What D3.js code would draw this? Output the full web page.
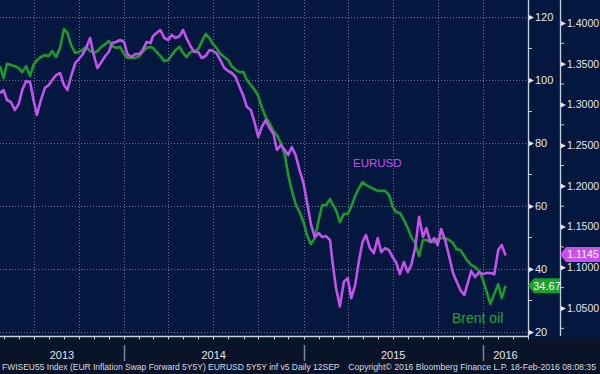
<!DOCTYPE html>
<html><head><meta charset="utf-8">
<script src="https://cdn.jsdelivr.net/npm/d3@7"></script>
<style>html,body{margin:0;padding:0;background:#03173f;}svg{display:block;}</style>
</head><body>
<svg id="c" width="600" height="374"></svg>
<script>
const dates = [
"2013-04-24",
"2013-05-01","2013-05-08","2013-05-16","2013-05-24",
"2013-06-01","2013-06-08","2013-06-16","2013-06-24",
"2013-07-01","2013-07-08","2013-07-16","2013-07-24",
"2013-08-01","2013-08-08","2013-08-16","2013-08-24",
"2013-09-01","2013-09-08","2013-09-16","2013-09-24",
"2013-10-01","2013-10-08","2013-10-16","2013-10-24",
"2013-11-01","2013-11-08","2013-11-16","2013-11-24",
"2013-12-01","2013-12-08","2013-12-16","2013-12-24",
"2014-01-01","2014-01-08","2014-01-16","2014-01-24",
"2014-02-01","2014-02-08","2014-02-16","2014-02-24",
"2014-03-01","2014-03-08","2014-03-16","2014-03-24",
"2014-04-01","2014-04-08","2014-04-16","2014-04-24",
"2014-05-01","2014-05-08","2014-05-16","2014-05-24",
"2014-06-01","2014-06-08","2014-06-16","2014-06-24",
"2014-07-01","2014-07-08","2014-07-16","2014-07-24",
"2014-08-01","2014-08-08","2014-08-16","2014-08-24",
"2014-09-01","2014-09-08","2014-09-16","2014-09-24",
"2014-10-01","2014-10-08","2014-10-16","2014-10-24",
"2014-11-01","2014-11-08","2014-11-16","2014-11-24",
"2014-12-01","2014-12-08","2014-12-16","2014-12-24",
"2015-01-01","2015-01-08","2015-01-16","2015-01-24",
"2015-02-01","2015-02-08","2015-02-16","2015-02-24",
"2015-03-01","2015-03-08","2015-03-16","2015-03-24",
"2015-04-01","2015-04-08","2015-04-16","2015-04-24",
"2015-05-01","2015-05-08","2015-05-16","2015-05-24",
"2015-06-01","2015-06-08","2015-06-16","2015-06-24",
"2015-07-01","2015-07-08","2015-07-16","2015-07-24",
"2015-08-01","2015-08-08","2015-08-16","2015-08-24",
"2015-09-01","2015-09-08","2015-09-16","2015-09-24",
"2015-10-01","2015-10-08","2015-10-16","2015-10-24",
"2015-11-01","2015-11-08","2015-11-16","2015-11-24",
"2015-12-01","2015-12-08","2015-12-16","2015-12-24",
"2016-01-01","2016-01-08","2016-01-16","2016-01-24",
"2016-02-01","2016-02-08","2016-02-16"];

const brent = [
104.4,
100.6,105.1,104.8,104.4,
103.8,102.5,104.4,101.3,
104.8,106.3,107.3,107.9,
107.6,109.2,107.3,110.2,
116.2,114.9,110.8,108.6,
108.9,109.5,110.5,109.2,
108.6,109.2,110.5,111.4,
112.4,110.8,110.2,110.5,
108.3,107.0,107.0,107.0,
107.6,108.9,110.2,110.5,
110.2,108.9,107.6,106.0,
106.3,107.9,109.5,110.5,
108.6,107.3,108.9,109.2,
109.8,112.1,114.6,113.3,
111.4,110.2,108.3,107.3,
106.3,104.4,103.2,102.5,
102.5,100.0,98.4,96.8,
94.9,91.4,88.3,86.3,
83.8,82.5,80.0,76.2,
69.8,65.1,60.6,58.1,
54.9,50.8,47.9,49.8,
55.6,60.3,60.3,62.2,
60.6,58.7,54.9,57.5,
57.5,59.7,63.2,65.7,
67.6,66.7,66.0,65.4,
64.8,64.8,64.8,63.5,
60.0,58.1,57.8,55.6,
53.0,50.2,48.3,44.1,
49.2,49.2,48.6,48.6,
49.5,49.8,49.8,49.2,
48.3,46.3,46.0,44.1,
42.5,41.3,40.6,39.4,
36.5,33.0,28.9,32.1,
35.2,30.8,34.67];

const eurusd = [
1.3140,
1.3177,1.3054,1.3030,1.2931,
1.3005,1.3177,1.3287,1.3275,
1.3054,1.2870,1.3054,1.3201,
1.3238,1.3300,1.3361,1.3386,
1.3238,1.3177,1.3361,1.3509,
1.3558,1.3607,1.3693,1.3816,
1.3595,1.3447,1.3521,1.3595,
1.3644,1.3754,1.3767,1.3791,
1.3767,1.3619,1.3582,1.3619,
1.3619,1.3668,1.3767,1.3754,
1.3840,1.3877,1.3914,1.3816,
1.3791,1.3853,1.3816,1.3840,
1.3914,1.3816,1.3717,1.3644,
1.3644,1.3570,1.3595,1.3668,
1.3656,1.3631,1.3545,1.3447,
1.3410,1.3386,1.3337,1.3214,
1.3103,1.2968,1.2931,1.2771,
1.2600,1.2722,1.2808,1.2710,
1.2636,1.2440,1.2501,1.2440,
1.2378,1.2477,1.2378,1.2194,
1.2034,1.1801,1.1531,1.1371,
1.1419,1.1371,1.1383,1.1334,
1.1064,1.0750,1.0520,1.0820,
1.0867,1.0620,1.0781,1.1088,
1.1310,1.1396,1.1236,1.1174,
1.1359,1.1187,1.1236,1.1211,
1.1125,1.1064,1.0917,1.1064,
1.0941,1.1027,1.1236,1.1620,
1.1371,1.1482,1.1310,1.1359,
1.1273,1.1469,1.1334,1.1138,
1.0929,1.0830,1.0720,1.0659,
1.0806,1.0953,1.0880,1.0941,
1.0916,1.0929,1.0929,1.0916,
1.1211,1.1273,1.1145];

const brentTicks = [20,40,60,80,100,120];
const brentMinor = [30,50,70,90,110];
const fxTicks = [1.05,1.10,1.15,1.20,1.25,1.30,1.35,1.40];
const fxMinor = [1.025,1.075,1.125,1.175,1.225,1.275,1.325,1.375];
const yearStarts = ["2013-01-01","2014-01-01","2015-01-01","2016-01-01","2017-01-01"];
const yearLabels = ["2013","2014","2015","2016"];
const seriesNames = ["EURUSD","Brent oil"];
const lastLabels = ["1.1145","34.67"];
const footerLeft = "FWISEU55 Index (EUR Inflation Swap Forward 5Y5Y) EURUSD 5Y5Y inf v5  Daily 12SEP";
const footerRight = "Copyright\u00A9 2016 Bloomberg Finance L.P.  18-Feb-2016 08:08:35";

const parse = d3.timeParse("%Y-%m-%d");
const D = dates.map(parse);
const W = 600, H = 374, PR = 528, PB = 333, RA = 560;
const FONT = "Liberation Sans, Arial, sans-serif";
const GREEN = "#1f9a2a", MAGENTA = "#c552ef";

const x = d3.scaleTime().domain([parse("2014-01-01"), parse("2016-01-01")]).range([124, 483]);
const yL = d3.scaleLinear().domain([20, 120]).range([332, 17]);
const yR = d3.scaleLinear().domain([1.05, 1.40]).range([308, 23]);
const x0 = x.invert(0), x1 = x.invert(PR);

const svg = d3.select("#c");
svg.append("rect").attr("width", W).attr("height", H).attr("fill", "#03173f");
svg.append("rect").attr("y", 338).attr("width", W).attr("height", H - 338).attr("fill", "#0a1428");

// grid
const grid = svg.append("g").attr("stroke", "#7c8aa8").attr("stroke-width", 1).attr("stroke-dasharray", "1,2").attr("opacity", 0.8);
brentTicks.forEach(v => {
  grid.append("line").attr("x1", 0).attr("x2", PR).attr("y1", Math.round(yL(v)) + 0.5).attr("y2", Math.round(yL(v)) + 0.5);
});
d3.timeMonth.every(3).range(x0, x1).forEach(d => {
  const xx = Math.round(x(d)) + 0.5;
  grid.append("line").attr("x1", xx).attr("x2", xx).attr("y1", 0).attr("y2", PB);
});

// lines
svg.append("clipPath").attr("id", "clip").append("rect").attr("x", 0).attr("y", 0).attr("width", PR).attr("height", PB + 2);
const plot = svg.append("g").attr("clip-path", "url(#clip)");
const lineB = d3.line().x((d, i) => x(D[i])).y(d => yL(d));
const lineE = d3.line().x((d, i) => x(D[i])).y(d => yR(d));
plot.append("path").attr("d", lineB(brent)).attr("fill", "none").attr("stroke", GREEN).attr("stroke-width", 2.6).attr("stroke-linejoin", "round");
plot.append("path").attr("d", lineE(eurusd)).attr("fill", "none").attr("stroke", MAGENTA).attr("stroke-width", 2.6).attr("stroke-linejoin", "round");

// series labels
svg.append("text").attr("x", 353).attr("y", 167).attr("fill", MAGENTA).attr("font-family", FONT).attr("font-size", 11.5).text(seriesNames[0]);
svg.append("text").attr("x", 452).attr("y", 323).attr("fill", "#2aa634").attr("font-family", FONT).attr("font-size", 14).text(seriesNames[1]);

// bottom axis
svg.append("line").attr("x1", 0).attr("x2", PR).attr("y1", 336.5).attr("y2", 336.5).attr("stroke", "#c9ced8").attr("stroke-width", 1.3);
d3.timeMonth.range(x0, x1).forEach(d => {
  const xx = Math.round(x(d)) + 0.5;
  svg.append("line").attr("x1", xx).attr("x2", xx).attr("y1", 336).attr("y2", 339.5).attr("stroke", "#c9ced8");
});
const ys = yearStarts.map(parse);
ys.slice(1, 4).forEach(d => {
  const xx = Math.round(x(d)) + 0.5;
  svg.append("line").attr("x1", xx).attr("x2", xx).attr("y1", 345).attr("y2", 361).attr("stroke", "#7d8699").attr("stroke-width", 1.5);
});
yearLabels.forEach((t, i) => {
  const a = Math.max(0, x(ys[i])), b = Math.min(PR, x(ys[i + 1]));
  svg.append("text").attr("x", (a + b) / 2).attr("y", 359).attr("text-anchor", "middle").attr("fill", "#e4e6ea").attr("font-family", FONT).attr("font-size", 11).text(t);
});

// footer: two pieces, font sized so natural width fits the target span
function fitText(str, xPos, anchor, target) {
  const t = svg.append("text").attr("x", xPos).attr("y", 369.5).attr("text-anchor", anchor)
    .attr("fill", "#d7dae0").attr("font-family", FONT).attr("font-size", 10).text(str);
  const w = t.node().getComputedTextLength();
  t.attr("font-size", Math.min(10.5, 10 * target / w));
}
fitText(footerLeft, 2, "start", 338);
fitText(footerRight, 596, "end", 248);

// left (Brent) axis
svg.append("line").attr("x1", PR + 0.5).attr("x2", PR + 0.5).attr("y1", 0).attr("y2", PB + 3).attr("stroke", "#c9ced8").attr("stroke-width", 1.3);
const la = svg.append("g").attr("transform", `translate(${PR},0)`)
  .call(d3.axisRight(yL).tickValues(brentTicks).tickSize(0).tickPadding(7).tickFormat(d3.format("d")));
la.select(".domain").remove();
la.selectAll("text").attr("fill", "#e4e6ea").attr("font-family", FONT).attr("font-size", 11);
la.selectAll(".tick").append("path").attr("d", "M1,-2.5L6,0L1,2.5Z").attr("fill", "#e4e6ea");
brentMinor.forEach(v => {
  svg.append("line").attr("x1", PR).attr("x2", PR + 4).attr("y1", yL(v)).attr("y2", yL(v)).attr("stroke", "#c9ced8");
});

// right (EURUSD) axis
svg.append("line").attr("x1", RA + 0.5).attr("x2", RA + 0.5).attr("y1", 0).attr("y2", PB + 3).attr("stroke", "#c9ced8").attr("stroke-width", 1.3);
const ra = svg.append("g").attr("transform", `translate(${RA},0)`)
  .call(d3.axisRight(yR).tickValues(fxTicks).tickSize(0).tickPadding(7).tickFormat(d3.format(".4f")));
ra.select(".domain").remove();
ra.selectAll("text").attr("fill", "#e4e6ea").attr("font-family", FONT).attr("font-size", 10.5);
ra.selectAll(".tick").append("path").attr("d", "M1,-2.5L6,0L1,2.5Z").attr("fill", "#e4e6ea");
fxMinor.forEach(v => {
  svg.append("line").attr("x1", RA).attr("x2", RA + 4).attr("y1", yR(v)).attr("y2", yR(v)).attr("stroke", "#c9ced8");
});

// last value callouts
const yb = yL(brent[brent.length - 1]);
svg.append("path").attr("d", `M${PR},${yb}L${PR + 6},${yb - 7.5}L${RA},${yb - 7.5}L${RA},${yb + 7.5}L${PR + 6},${yb + 7.5}Z`).attr("fill", "#18a028");
svg.append("text").attr("x", (PR + RA) / 2 + 3).attr("y", yb + 4).attr("text-anchor", "middle").attr("fill", "#ffffff").attr("font-family", FONT).attr("font-size", 11).text(lastLabels[1]);
const ye = yR(eurusd[eurusd.length - 1]) - 1;
svg.append("path").attr("d", `M${RA},${ye}L${RA + 6},${ye - 7.5}L${W},${ye - 7.5}L${W},${ye + 7.5}L${RA + 6},${ye + 7.5}Z`).attr("fill", "#c94ff0");
svg.append("text").attr("x", (RA + W) / 2 + 3).attr("y", ye + 4).attr("text-anchor", "middle").attr("fill", "#ffffff").attr("font-family", FONT).attr("font-size", 10.5).text(lastLabels[0]);
</script>
</body></html>
